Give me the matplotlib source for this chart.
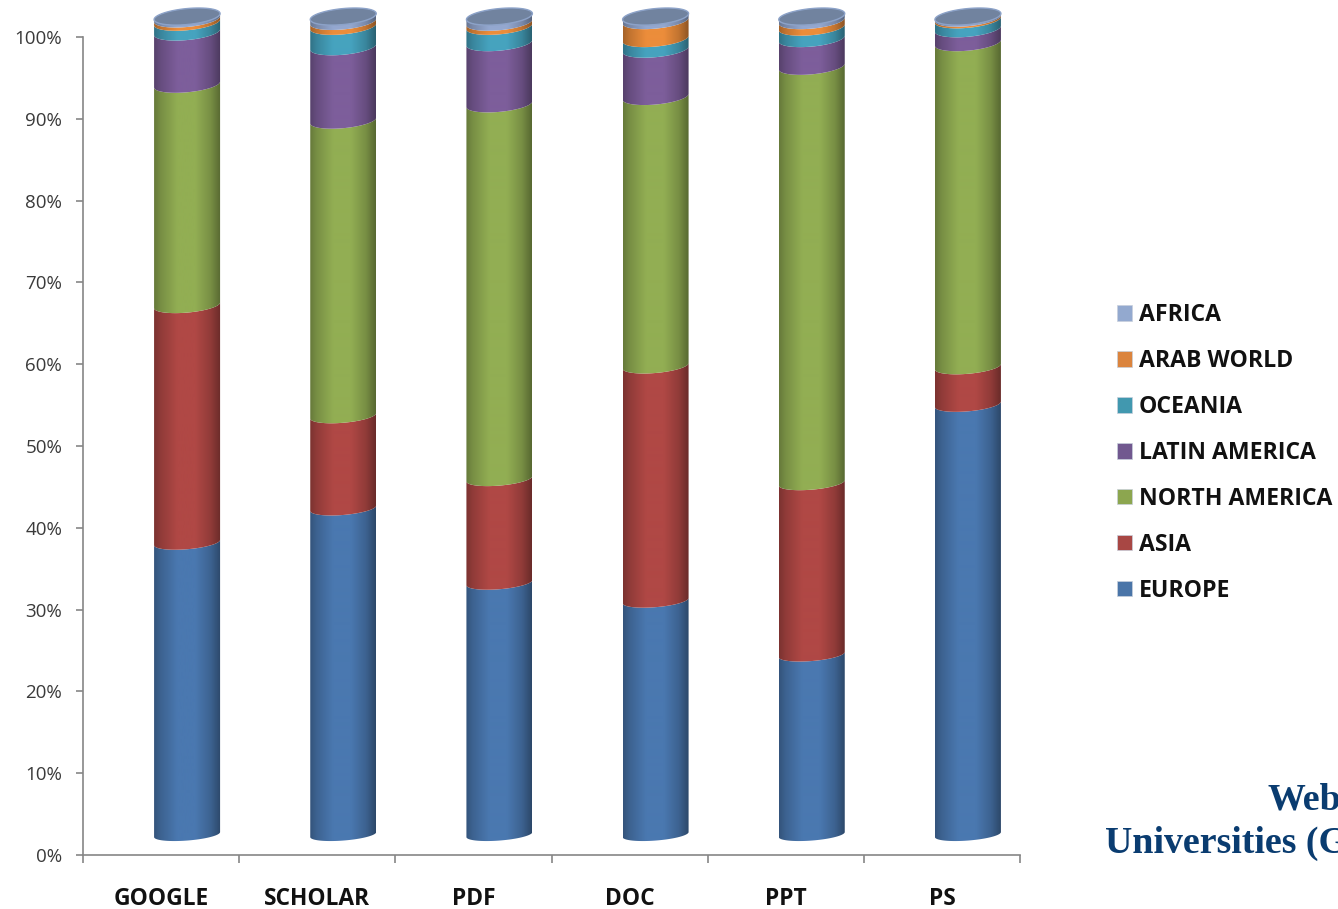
import numpy as np
import matplotlib
matplotlib.use('Agg')
import matplotlib.pyplot as plt
from matplotlib.colors import to_rgb
from matplotlib.patches import Polygon, Patch

categories = ['GOOGLE', 'SCHOLAR', 'PDF', 'DOC', 'PPT', 'PS']
series_names = ['EUROPE', 'ASIA', 'NORTH AMERICA', 'LATIN AMERICA', 'OCEANIA', 'ARAB WORLD', 'AFRICA']
europe = [35.7, 39.9, 30.8, 28.6, 22.0, 52.6]
asia = [29.0, 11.3, 12.7, 28.7, 21.0, 4.6]
north_america = [27.0, 36.1, 45.8, 32.9, 50.9, 39.6]
latin_america = [6.4, 9.0, 7.5, 5.8, 3.4, 1.7]
oceania = [1.2, 2.5, 2.0, 1.3, 1.4, 1.1]
arab_world = [0.4, 0.6, 0.5, 2.2, 0.8, 0.2]
africa = [0.3, 0.6, 0.7, 0.5, 0.5, 0.2]
series = [europe, asia, north_america, latin_america, oceania, arab_world, africa]

bar_colors = ['#4A78B0', '#B04845', '#92AE53', '#7D5E9B', '#46A3BF', '#EC8D3B', '#94A8D0']
legend_colors = ['#4A75A8', '#A84744', '#8CA64F', '#71588F', '#4198AF', '#DB843D', '#93A9CF']
y_ticks = list(range(0, 101, 10))
y_labels = [str(t) + '%' for t in y_ticks]

fig = plt.figure(figsize=(13.38, 9.09), dpi=100)
ax = fig.add_axes([83 / 1338, 54 / 909, 937 / 1338, 818 / 909])
ax.set_zorder(1)

# pixel sizes of the fake 3d cylinder, turned into axis units
px_x = 6 / 937
px_y = 100 / 818
half_w = 33 * px_x
x_shift = 26 * px_x


def arc(cx, v, start, end):
    t = np.linspace(start, end, 60)
    lift = 2.5
    h = (6 + 2 * v / 100) * px_y
    tilt = (2.5 + 0.5 * v / 100) * px_y
    return np.column_stack([cx + half_w * np.cos(t), v + lift + tilt * np.cos(t) - h * np.sin(t)])


shade_x = np.linspace(0, 1, 132)
shade = np.interp(shade_x, [0, 0.1, 0.35, 0.62, 0.85, 1], [0.7, 0.82, 1.0, 1.0, 0.82, 0.6])

for i in range(len(categories)):
    cx = i + 0.5 + x_shift
    bottom = 0
    for values, color in zip(series, bar_colors):
        top = bottom + values[i]
        rgb = np.array(to_rgb(color))
        grad = (shade[:, None] * rgb)[None, :, :]
        outline = np.vstack([arc(cx, bottom, np.pi, 0), arc(cx, top, 0, np.pi)])
        poly = Polygon(outline, closed=True, facecolor='none', edgecolor='none', transform=ax.transData)
        ax.add_patch(poly)
        im = ax.imshow(grad, extent=[cx - half_w, cx + half_w, 0, 105], aspect='auto',
                       interpolation='bilinear', zorder=2)
        im.set_clip_path(poly)
        im.set_clip_box(fig.bbox)
        bottom = top
    cap = arc(cx, 100, 0, 2 * np.pi)
    ax.add_patch(Polygon(cap, closed=True, facecolor='#71839F', edgecolor='#8CA2C8', linewidth=1,
                         zorder=3, clip_on=False))

ax.set_xlim(0, 6)
ax.set_ylim(0, 100)
ax.spines['top'].set_visible(False)
ax.spines['right'].set_visible(False)
ax.spines['left'].set_color('#868686')
ax.spines['bottom'].set_color('#868686')
ax.spines['left'].set_linewidth(1.2)
ax.spines['bottom'].set_linewidth(1.2)

ax.set_yticks(y_ticks)
ax.set_yticklabels(y_labels, fontname='Open Sans', fontsize=13.5, color='#3A3A3A')
ax.tick_params(axis='y', length=5, width=1.2, color='#868686', pad=10)
ax.set_xticks(range(7))
ax.set_xticklabels([])
ax.tick_params(axis='x', which='major', length=6, width=1.2, color='#868686')
ax.set_xticks(np.arange(6) + 0.5, minor=True)
ax.set_xticklabels(categories, minor=True, fontname='Open Sans', fontweight='bold', fontsize=16.4, color='#111111')
ax.tick_params(axis='x', which='minor', length=0, pad=23)

handles = [Patch(facecolor=c, edgecolor='#C8D0DC', linewidth=0.5) for c in legend_colors]
fig.legend(handles[::-1], series_names[::-1], loc='center left', bbox_to_anchor=(1105 / 1338, 1 - 453 / 909),
           frameon=False, handlelength=0.65, handleheight=0.65, handletextpad=0.33, labelspacing=0.95,
           borderpad=0, labelcolor='#111111',
           prop={'family': 'Open Sans', 'weight': 'bold', 'size': 16.6})

fig.text(1268 / 1338, 1 - 809 / 909, 'Web', fontfamily='Liberation Serif', fontweight='bold', fontsize=27.3,
         color='#0A3C70', va='baseline', ha='left')
fig.text(1105 / 1338, 1 - 853 / 909, 'Universities (G', fontfamily='Liberation Serif', fontweight='bold',
         fontsize=27.3, color='#0A3C70', va='baseline', ha='left')

fig.savefig('out.png', dpi=100)
